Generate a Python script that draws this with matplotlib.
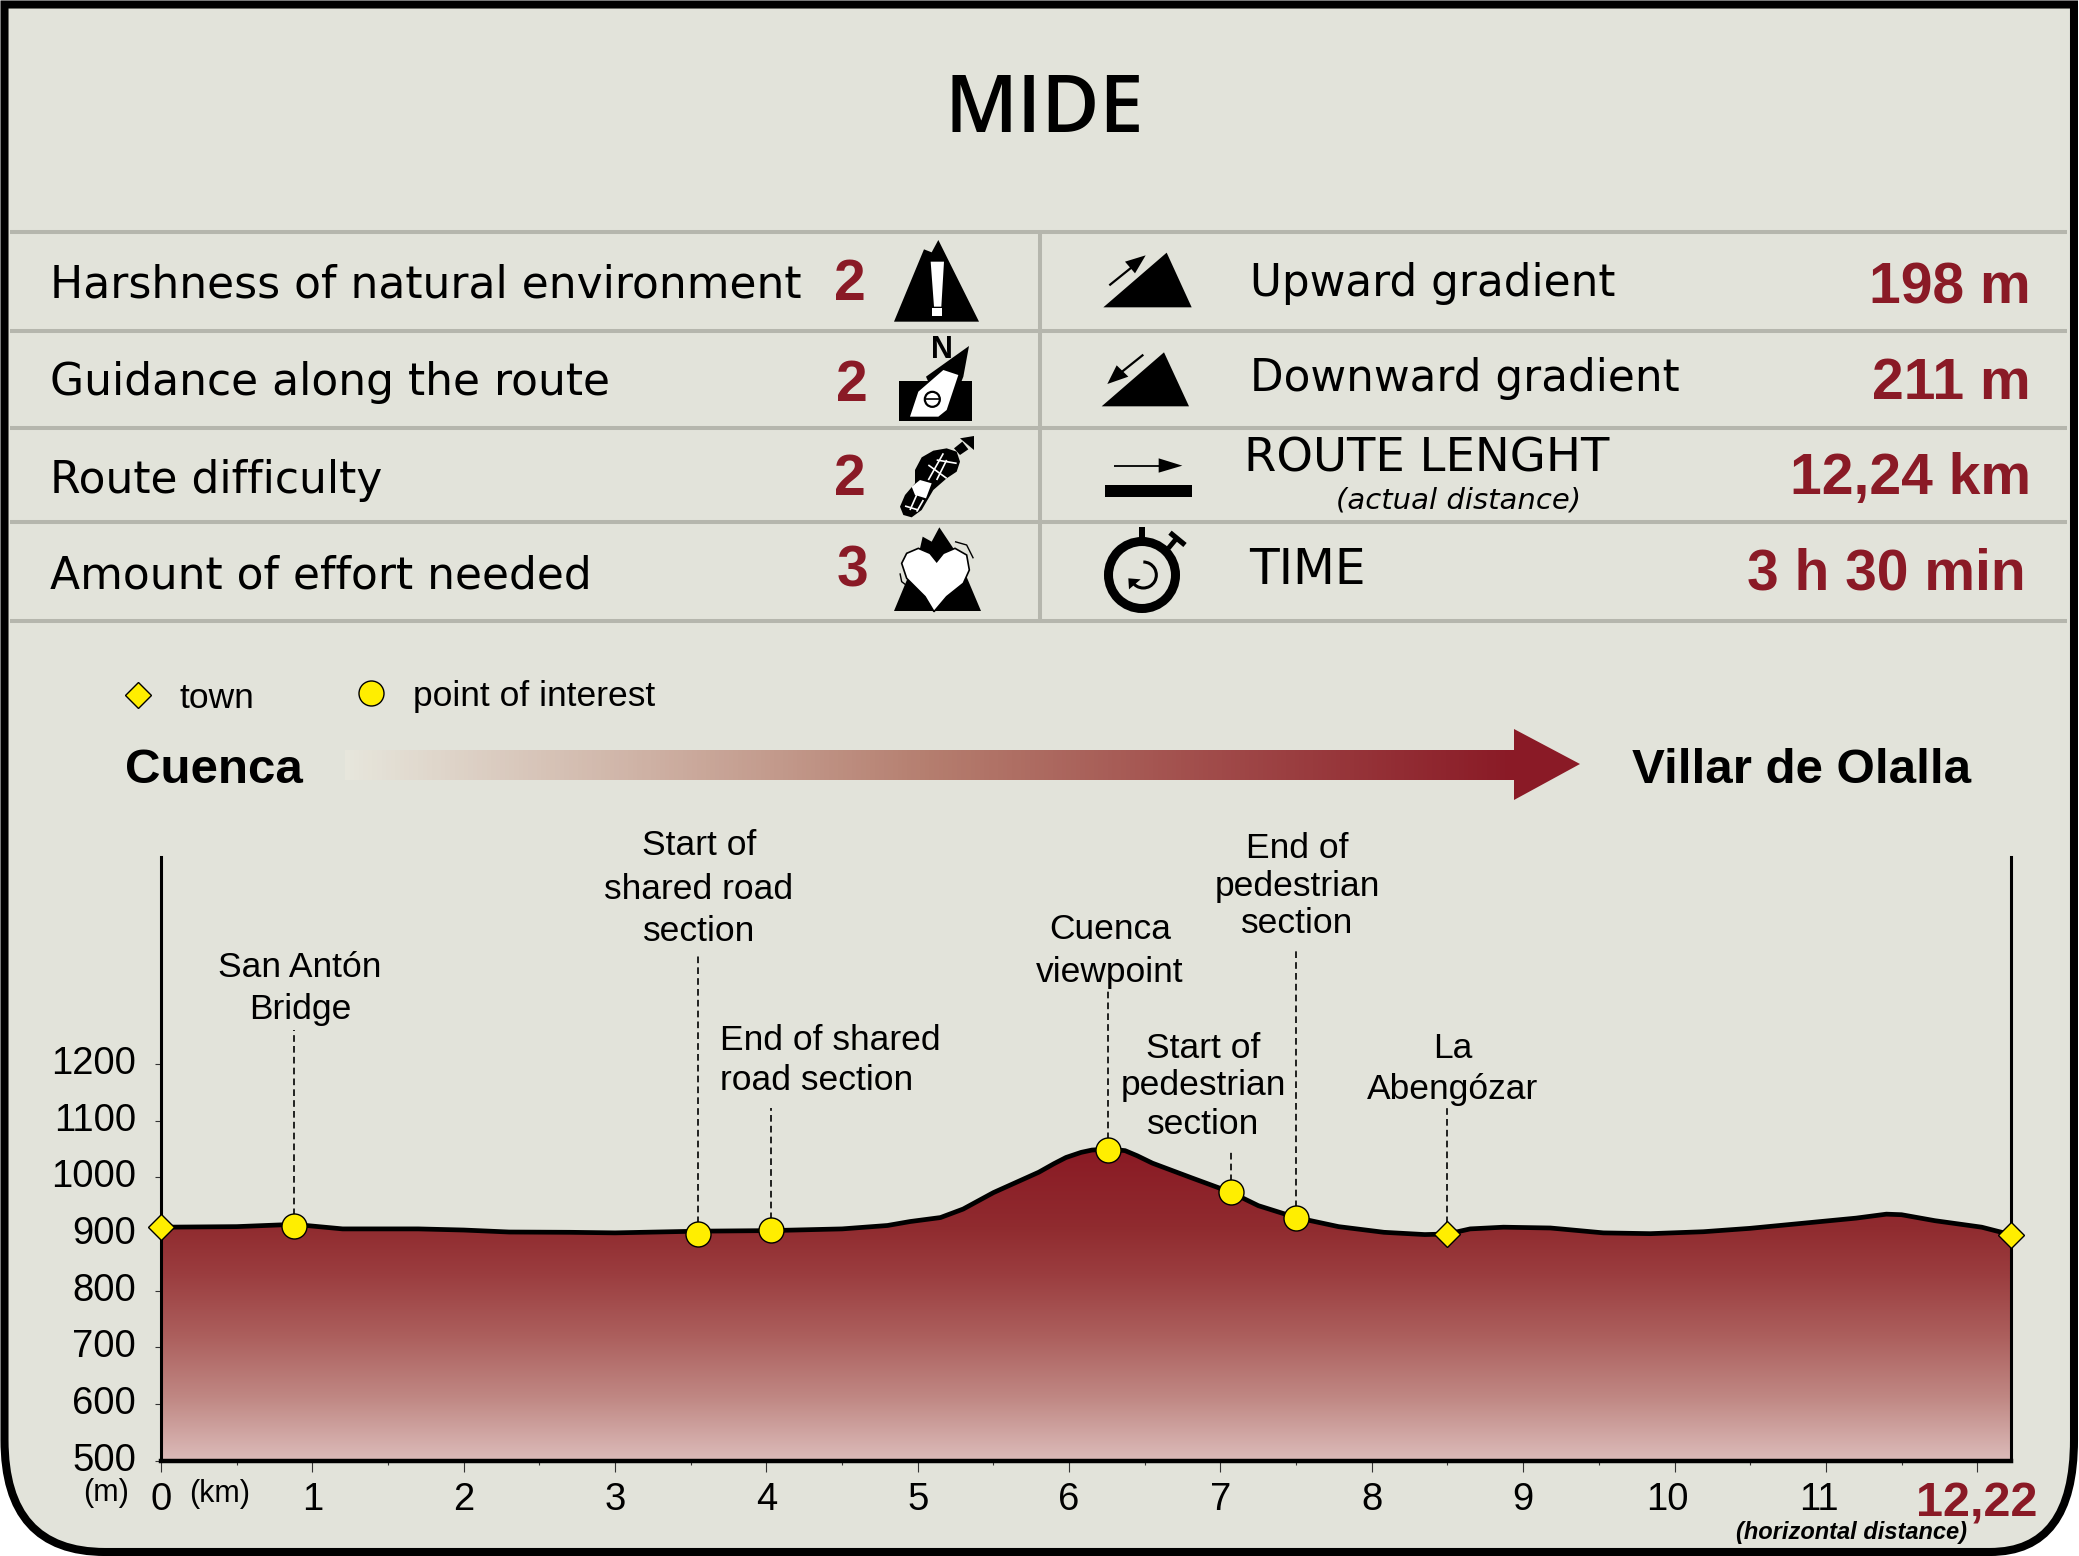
import matplotlib
matplotlib.use('Agg')
from matplotlib import pyplot as plt
from matplotlib.colors import LinearSegmentedColormap
from matplotlib.patches import Circle, PathPatch, Polygon, Arc
from matplotlib.path import Path
from matplotlib.ticker import MultipleLocator
from matplotlib.transforms import ScaledTranslation
import numpy as np

W, H = 2079, 1556

# route profile
km = [0, 0.5, 0.88, 1.2, 1.4, 1.7, 2.0, 2.3, 2.7, 3.0, 3.55, 4.03, 4.5, 4.8, 4.95, 5.15, 5.3, 5.5, 5.6, 5.7,
      5.8, 5.9, 5.98, 6.08, 6.15, 6.26, 6.37, 6.45, 6.55, 6.81, 7.07, 7.25, 7.5, 7.78, 8.08, 8.35, 8.5, 8.65, 8.87, 9.18,
      9.53, 9.84, 10.19, 10.5, 10.85, 11.2, 11.4, 11.5, 11.72, 12.03, 12.22]
alt = [912, 913, 917, 909, 909, 909, 907, 903.5, 903, 902, 905, 906, 909, 915, 922, 929, 944, 973, 985, 997,
       1009, 1024, 1035, 1044, 1048, 1050, 1047, 1038, 1025, 999, 973.5, 950, 929, 913, 903, 899, 900, 909, 912, 910.6,
       902, 900.6, 904, 910, 919, 928, 935, 934, 923.5, 912, 899]

poi_km = [0.88, 3.55, 4.03, 6.26, 7.07, 7.5]
poi_alt = [914.7, 900, 907, 1048, 973.5, 929]
poi_top = [1260, 1392, 1122, 1334, 1046, 1402]
town_km = [0, 8.5, 12.22]
town_alt = [912, 899.4, 899]
town_top = [None, 1122, None]

mide_left = ['Harshness of natural environment', 'Guidance along the route', 'Route difficulty', 'Amount of effort needed']
mide_score = ['2', '2', '2', '3']
mide_right = ['Upward gradient', 'Downward gradient', 'ROUTE LENGHT', 'TIME']
mide_value = ['198 m', '211 m', '12,24 km', '3 h 30 min']

y_ticks = [500, 600, 700, 800, 900, 1000, 1100, 1200]
x_ticks = [0, 1, 2, 3, 4, 5, 6, 7, 8, 9, 10, 11, 12]
x_labels = ['0', '1', '2', '3', '4', '5', '6', '7', '8', '9', '10', '11', '12,22']

BG = '#e2e3da'
RED = '#8a1a26'
GREY = '#b5b6ad'
YEL = '#ffee00'
ARIAL = 'Liberation Sans'

fig = plt.figure(figsize=(W / 100, H / 100), dpi=100, facecolor='white')
page = fig.add_axes([0, 0, 1, 1])
page.set_xlim(0, W)
page.set_ylim(H, 0)
page.axis('off')

# frame, square on top and rounded at the bottom
verts = [(4.5, 4.5), (2074, 4.5), (2074, 1440), (2074, 1552), (1990, 1552), (105, 1552), (4.5, 1552), (4.5, 1440), (4.5, 4.5)]
codes = [Path.MOVETO, Path.LINETO, Path.LINETO, Path.CURVE3, Path.CURVE3, Path.LINETO, Path.CURVE3, Path.CURVE3, Path.CLOSEPOLY]
page.add_patch(PathPatch(Path(verts, codes), fc=BG, ec='black', lw=5.8, joinstyle='miter'))

page.text(1044, 111, 'MIDE', ha='center', va='center', fontsize=57, family='Open Sans', weight='semibold', color='black')

# table lines
for y in [232, 331, 428, 522, 621]:
    page.plot([10, 2067], [y, y], color=GREY, lw=2.9, solid_capstyle='butt')
page.plot([1040, 1040], [232, 621], color=GREY, lw=2.9, solid_capstyle='butt')

left_y = [285, 382, 480, 576]
score_y = [285, 386, 480, 571]
score_x = [850, 852, 850, 852]
right_y = [283, 378, 459, 570]
right_x = [1250, 1250, 1244, 1249]
right_size = [31.5, 31.5, 33.5, 35]
val_y = [288, 384, 479, 574]
val_x = [2031, 2031, 2031, 2026]
for i in range(4):
    page.text(50, left_y[i], mide_left[i], va='center', fontsize=31.7, family='DejaVu Sans', color='black')
    page.text(score_x[i], score_y[i], mide_score[i], ha='center', va='center', fontsize=41, family=ARIAL,
              weight='bold', color=RED)
    page.text(right_x[i], right_y[i], mide_right[i], va='center', fontsize=right_size[i], family='DejaVu Sans', color='black')
    page.text(val_x[i], val_y[i], mide_value[i], ha='right', va='center', fontsize=41, family=ARIAL,
              weight='bold', color=RED)
page.text(1459, 500, '(actual distance)', ha='center', va='center', fontsize=21, family='DejaVu Sans',
          style='italic', color='black')


# icons, coordinates measured in a 3x crop starting at (800, 220)
def ic(pts):
    return [(800 + x / 3, 220 + y / 3) for x, y in pts]


def poly(pts, color='black', **kw):
    page.add_patch(Polygon(ic(pts), closed=True, fc=color, ec=kw.pop('ec', 'none'), **kw))


def seg(pts, color='black', lw=1.5):
    xy = np.array(ic(pts))
    page.plot(xy[:, 0], xy[:, 1], color=color, lw=lw, solid_capstyle='butt')


# harshness
poly([(282, 305), (372, 88), (395, 97), (415, 60), (537, 305)])
poly([(392, 125), (432, 125), (424, 260), (402, 260)], 'white')
poly([(397, 265), (427, 265), (427, 287), (397, 287)], 'white')
# guidance
poly([(298, 484), (515, 484), (515, 602), (298, 602)])
poly([(378, 470), (507, 378), (490, 470), (470, 520), (400, 520)])
poly([(430, 450), (475, 465), (440, 570), (415, 590), (330, 590), (355, 515)], 'white')
page.add_patch(Circle(ic([(397, 538)])[0], 7.5, fc='white', ec='black', lw=1.6))
seg([(378, 538), (416, 538)], lw=1.2)
page.text(*ic([(425, 389)])[0], 'N', ha='center', va='center', fontsize=22, family=ARIAL, weight='bold', color='black')
# difficulty (boot)
poly([(300, 860), (315, 825), (345, 790), (345, 750), (365, 712), (400, 692), (440, 685), (470, 695), (480, 725),
      (470, 755), (440, 775), (400, 810), (365, 870), (335, 892), (310, 885)])
poly([(462, 685), (487, 665), (505, 688), (480, 705)])
poly([(480, 655), (522, 648), (522, 690)])
poly([(335, 800), (360, 780), (395, 790), (378, 835), (345, 825)], 'white')
seg([(385, 735), (440, 775)], 'white', 1.2)
seg([(410, 720), (470, 730)], 'white', 1.2)
seg([(430, 700), (385, 780)], 'white', 1.2)
seg([(440, 720), (410, 780)], 'white', 1.2)
seg([(350, 825), (330, 870)], 'white', 1.2)
seg([(370, 840), (350, 875)], 'white', 1.2)
seg([(315, 858), (355, 870)], 'white', 1.2)
# effort
poly([(282, 1173), (360, 985), (368, 950), (395, 965), (418, 922), (470, 1000), (543, 1173)])
poly([(402, 1175), (375, 1130), (320, 1075), (305, 1030), (320, 1000), (355, 985), (390, 1000), (410, 1025),
      (430, 1000), (465, 985), (500, 1005), (508, 1050), (490, 1090), (440, 1130)], 'white', ec='black', lw=1.2)
seg([(465, 965), (500, 975), (520, 1015)], lw=1)
seg([(300, 1060), (305, 1085), (318, 1095)], lw=1)
# upward
poly([(910, 262), (1100, 98), (1175, 262)])
seg([(928, 196), (1000, 138)], lw=1.6)
poly([(975, 125), (1037, 106), (1005, 160)])
# downward
poly([(905, 559), (1092, 397), (1167, 559)])
seg([(1030, 404), (965, 456)], lw=1.6)
poly([(922, 492), (950, 436), (985, 470)])
# length
seg([(943, 737), (1080, 737)], lw=1.3)
poly([(1076, 715), (1147, 737), (1076, 758)])
poly([(915, 795), (1175, 795), (1175, 830), (915, 830)])
# stopwatch
watch = ic([(1026, 1065)])[0]
page.add_patch(Circle(watch, 33.5, fc='none', ec='black', lw=6.5))
poly([(1017, 920), (1035, 920), (1035, 955), (1017, 955)])
seg([(1105, 985), (1130, 955)], lw=3.5)
seg([(1110, 938), (1155, 975)], lw=3.8)
page.add_patch(Arc(ic([(1030, 1065)])[0], 26, 26, theta1=-90, theta2=150, ec='black', lw=2.2, fill=False))
poly([(985, 1075), (1022, 1078), (987, 1108)])

# legend
page.plot([138], [695], marker='D', ms=13.5, mfc=YEL, mec='black', mew=1, ls='none')
page.text(179, 698, 'town', va='center', fontsize=25.5, family=ARIAL, color='black')
page.plot([371], [693], marker='o', ms=18, mfc=YEL, mec='black', mew=1, ls='none')
page.text(413, 696, 'point of interest', va='center', fontsize=25.5, family=ARIAL, color='black')

# direction arrow
page.text(125, 770, 'Cuenca', va='center', fontsize=35.5, family=ARIAL, weight='bold', color='black')
page.text(1632, 770, 'Villar de Olalla', va='center', fontsize=35.5, family=ARIAL, weight='bold', color='black')
arrow_cmap = LinearSegmentedColormap.from_list(
    'arrow', [(0, '#e7e6dc'), (0.25, '#cfb3a6'), (0.5, '#b57e6f'), (0.75, '#a04a49'), (1, RED)])
page.imshow(np.linspace(0, 1, 256)[None, :], extent=(345, 1514, 780, 750), cmap=arrow_cmap, aspect='auto', zorder=1)
page.set_xlim(0, W)
page.set_ylim(H, 0)
page.add_patch(Polygon([(1514, 729), (1580, 764), (1514, 800)], fc=RED, ec='none'))

# profile labels
labels = [
    (300, [967, 1009], ['San Antón', 'Bridge'], 'center'),
    (699, [845, 889, 931], ['Start of', 'shared road', 'section'], 'center'),
    (720, [1040, 1081], ['End of shared', 'road section'], 'left'),
    (1110, [929, 972], ['Cuenca', 'viewpoint'], 'center'),
    (1297, [848, 886, 923], ['End of', 'pedestrian', 'section'], 'center'),
    (1203, [1049, 1086, 1124], ['Start of', 'pedestrian', 'section'], 'center'),
    (1453, [1048, 1090], ['La', 'Abengózar'], 'center'),
]
for x, ys, lines, ha in labels:
    for y, s in zip(ys, lines):
        page.text(x, y, s, ha=ha, va='center', fontsize=25.5, family=ARIAL, color='black')

# elevation profile
x0, x1 = 161, 2010.5
y0, y1 = 1460.8, 857
ax = fig.add_axes([x0 / W, 1 - y0 / H, (x1 - x0) / W, (y0 - y1) / H])
ax.patch.set_alpha(0)
ax.set_xlim(0, 12.22)
ax.set_ylim(500, 500 + (y0 - y1) / 0.567)

fill_cmap = LinearSegmentedColormap.from_list(
    'fill', [(0, '#dcbcba'), (0.2, '#c08884'), (0.4, '#ac5f5d'), (0.6, '#9b3d3f'), (0.75, '#902b2f'), (1, '#8a1a24')])
im = ax.imshow(np.linspace(1, 0, 256)[:, None], extent=(0, 12.22, 500, 1050), cmap=fill_cmap, aspect='auto', zorder=1)
ax.set_xlim(0, 12.22)
ax.set_ylim(500, 500 + (y0 - y1) / 0.567)
clip = ax.fill_between(km, alt, 500, color='none')
im.set_clip_path(clip.get_paths()[0], transform=ax.transData)
ax.plot(km, alt, color='black', lw=3.4, zorder=3, solid_joinstyle='round')

ax.spines['top'].set_visible(False)
ax.spines['left'].set_linewidth(2.2)
ax.spines['right'].set_linewidth(2.2)
ax.spines['bottom'].set_linewidth(3.2)

for x, a, t in zip(poi_km, poi_alt, poi_top):
    ax.plot([x, x], [a, t], color='black', lw=1.2, ls=(0, (4, 2.5)), zorder=2)
for x, a, t in zip(town_km, town_alt, town_top):
    if t:
        ax.plot([x, x], [a, t], color='black', lw=1.2, ls=(0, (4, 2.5)), zorder=2)
ax.plot(poi_km, poi_alt, 'o', ms=18, mfc=YEL, mec='black', mew=1, zorder=5, clip_on=False)
ax.plot(town_km, town_alt, 'D', ms=13.5, mfc=YEL, mec='black', mew=1, zorder=5, clip_on=False)

ax.set_yticks(y_ticks)
ax.set_yticklabels([str(v) for v in y_ticks], fontsize=27.5, family=ARIAL)
ax.set_xticks(x_ticks)
ax.set_xticklabels(x_labels, fontsize=27.5, family=ARIAL)
ax.xaxis.set_minor_locator(MultipleLocator(0.5))
ax.tick_params(axis='x', which='major', length=8, width=0.8, pad=7, color='#333333')
ax.tick_params(axis='x', which='minor', length=3, width=0.8, color='#333333')
ax.tick_params(axis='y', which='major', length=4, width=0.8, pad=14, color='#333333')
last = ax.get_xticklabels()[-1]
last.set_color(RED)
last.set_fontweight('bold')
last.set_fontsize(35)

# the tick numbers sit slightly off their ticks in the original
for lab in ax.get_yticklabels():
    lab.set_transform(lab.get_transform() + ScaledTranslation(0, 4 / 100, fig.dpi_scale_trans))
for lab in ax.get_xticklabels()[10:12]:
    lab.set_transform(lab.get_transform() + ScaledTranslation(-7 / 100, 0, fig.dpi_scale_trans))

page.text(106, 1493, '(m)', ha='center', va='center', fontsize=22, family=ARIAL, color='black')
page.text(220, 1494, '(km)', ha='center', va='center', fontsize=22, family=ARIAL, color='black')
page.text(1852, 1533, '(horizontal distance)', ha='center', va='center', fontsize=17, family=ARIAL,
          weight='bold', style='italic', color='black')

fig.savefig('out.png', dpi=100, facecolor='white')
